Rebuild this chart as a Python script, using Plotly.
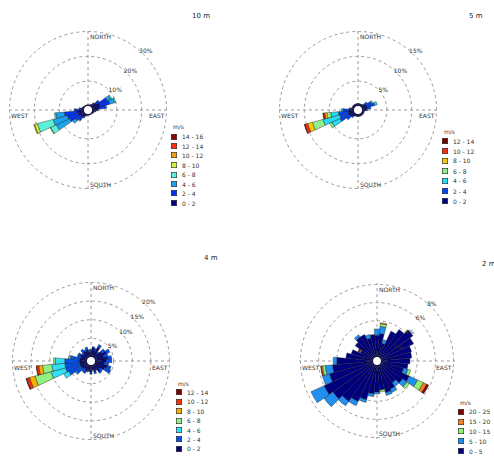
import plotly.graph_objects as go

W, H = 494, 463

directions = [0, 10, 20, 30, 40, 50, 60, 70, 80, 90, 100, 110,
              120, 130, 140, 150, 160, 170, 180, 190, 200, 210, 220, 230,
              240, 250, 260, 270, 280, 290, 300, 310, 320, 330, 340, 350]

# ---------------- Panel A: 10 m ----------------
A_labels = ['0 - 2', '2 - 4', '4 - 6', '6 - 8', '8 - 10', '10 - 12', '12 - 14', '14 - 16']
A_colors = ['#00007F', '#0033FF', '#1CA3F0', '#5CF0D8', '#D0F040', '#F0A010', '#FF2A10', '#900000']
A_0_2 = [0.5, 0.5, 0.6, 1.0, 1.5, 2.5, 3.5, 3.5, 3.0, 2.0, 1.5, 1.0,
         0.8, 0.6, 0.5, 0.5, 0.5, 0.5, 0.5, 0.6, 1.0, 1.5, 2.0, 2.0,
         2.5, 2.5, 3.0, 2.0, 1.5, 1.0, 0.8, 0.6, 0.5, 0.5, 0.5, 0.5]
A_2_4 = [0, 0, 0, 0, 0.5, 1.5, 3.5, 4.0, 2.5, 0.5, 0, 0,
         0, 0, 0, 0, 0, 0, 0, 0, 0, 0.5, 1.5, 2.5,
         4.0, 4.5, 5.0, 1.7, 0.5, 0, 0, 0, 0, 0, 0, 0]
A_4_6 = [0, 0, 0, 0, 0, 0, 1.5, 2.0, 0.5, 0, 0, 0,
         0, 0, 0, 0, 0, 0, 0, 0, 0, 0, 0.5, 1.5,
         6.0, 6.0, 3.5, 0.3, 0, 0, 0, 0, 0, 0, 0, 0]
A_6_8 = [0, 0, 0, 0, 0, 0, 0.5, 0.5, 0, 0, 0, 0,
         0, 0, 0, 0, 0, 0, 0, 0, 0, 0, 0, 0,
         2.5, 6.5, 0.5, 0, 0, 0, 0, 0, 0, 0, 0, 0]
A_8_10 = [0, 0, 0, 0, 0, 0, 0, 0, 0, 0, 0, 0,
          0, 0, 0, 0, 0, 0, 0, 0, 0, 0, 0, 0,
          0.2, 1.2, 0, 0, 0, 0, 0, 0, 0, 0, 0, 0]
A_10_12 = [0, 0, 0, 0, 0, 0, 0, 0, 0, 0, 0, 0,
           0, 0, 0, 0, 0, 0, 0, 0, 0, 0, 0, 0,
           0, 0.3, 0, 0, 0, 0, 0, 0, 0, 0, 0, 0]
A_12_14 = [0] * 36
A_14_16 = [0] * 36
A_ticks = [10, 20, 30]

# ---------------- Panel B: 5 m ----------------
B_labels = ['0 - 2', '2 - 4', '4 - 6', '6 - 8', '8 - 10', '10 - 12', '12 - 14']
B_colors = ['#00007F', '#0044FF', '#22DDF5', '#90F090', '#F5C800', '#F52A10', '#700000']
B_0_2 = [0.5, 0.5, 0.5, 0.5, 0.6, 1.0, 1.0, 1.2, 1.0, 0.8, 0.5, 0.5,
         0.5, 0.5, 0.5, 0.5, 0.5, 0.5, 0.5, 0.5, 0.5, 0.6, 0.8, 1.0,
         1.2, 1.2, 1.2, 1.0, 0.7, 0.5, 0.5, 0.5, 0.5, 0.5, 0.5, 0.5]
B_2_4 = [0, 0, 0, 0, 0, 0.5, 1.2, 1.5, 0.8, 0.3, 0, 0,
         0, 0, 0, 0, 0, 0, 0, 0, 0, 0, 0.3, 1.0,
         2.0, 1.8, 2.0, 1.2, 0.3, 0, 0, 0, 0, 0, 0, 0]
B_4_6 = [0, 0, 0, 0, 0, 0, 0.3, 0.5, 0, 0, 0, 0,
         0, 0, 0, 0, 0, 0, 0, 0, 0, 0, 0, 0,
         1.8, 3.5, 1.5, 0.3, 0, 0, 0, 0, 0, 0, 0, 0]
B_6_8 = [0, 0, 0, 0, 0, 0, 0, 0, 0, 0, 0, 0,
         0, 0, 0, 0, 0, 0, 0, 0, 0, 0, 0, 0,
         0.5, 2.2, 0.8, 0, 0, 0, 0, 0, 0, 0, 0, 0]
B_8_10 = [0, 0, 0, 0, 0, 0, 0, 0, 0, 0, 0, 0,
          0, 0, 0, 0, 0, 0, 0, 0, 0, 0, 0, 0,
          0, 1.0, 0.4, 0, 0, 0, 0, 0, 0, 0, 0, 0]
B_10_12 = [0, 0, 0, 0, 0, 0, 0, 0, 0, 0, 0, 0,
           0, 0, 0, 0, 0, 0, 0, 0, 0, 0, 0, 0,
           0, 0.6, 0.3, 0, 0, 0, 0, 0, 0, 0, 0, 0]
B_12_14 = [0, 0, 0, 0, 0, 0, 0, 0, 0, 0, 0, 0,
           0, 0, 0, 0, 0, 0, 0, 0, 0, 0, 0, 0,
           0, 0.1, 0.1, 0, 0, 0, 0, 0, 0, 0, 0, 0]
B_ticks = [5, 10, 15]

# ---------------- Panel C: 4 m ----------------
C_labels = ['0 - 2', '2 - 4', '4 - 6', '6 - 8', '8 - 10', '10 - 12', '12 - 14']
C_colors = ['#00007F', '#0050F0', '#30E0F5', '#90F080', '#F5B000', '#F53010', '#800000']
C_0_2 = [1.5, 2.5, 2.0, 3.0, 1.5, 2.5, 3.5, 2.5, 3.5, 3.0, 2.5, 3.5,
         3.0, 2.0, 2.5, 1.5, 2.0, 1.2, 2.0, 1.5, 1.5, 1.8, 1.5, 1.8,
         2.0, 2.0, 2.0, 2.0, 2.0, 1.8, 2.0, 1.5, 2.0, 1.8, 2.0, 1.5]
C_2_4 = [0.5, 0.3, 0.5, 0.8, 0.5, 1.0, 1.0, 1.2, 1.0, 1.5, 1.2, 1.0,
         1.8, 0.8, 0.5, 0.3, 0.5, 0.3, 0.5, 0.3, 0.5, 0.8, 1.0, 2.0,
         3.5, 4.0, 4.0, 4.0, 2.5, 1.0, 0.8, 0.5, 0.8, 0.5, 0.8, 0.5]
C_4_6 = [0, 0, 0, 0, 0, 0, 0, 0, 0, 0, 0, 0,
         0, 0, 0, 0, 0, 0, 0, 0, 0, 0, 0, 0.3,
         1.5, 4.0, 3.5, 2.5, 0.5, 0, 0, 0, 0, 0, 0, 0]
C_6_8 = [0, 0, 0, 0, 0, 0, 0, 0, 0, 0, 0, 0,
         0, 0, 0, 0, 0, 0, 0, 0, 0, 0, 0, 0,
         0, 4.5, 2.5, 0.5, 0, 0, 0, 0, 0, 0, 0, 0]
C_8_10 = [0, 0, 0, 0, 0, 0, 0, 0, 0, 0, 0, 0,
          0, 0, 0, 0, 0, 0, 0, 0, 0, 0, 0, 0,
          0, 1.5, 1.0, 0, 0, 0, 0, 0, 0, 0, 0, 0]
C_10_12 = [0, 0, 0, 0, 0, 0, 0, 0, 0, 0, 0, 0,
           0, 0, 0, 0, 0, 0, 0, 0, 0, 0, 0, 0,
           0, 0.8, 0.6, 0, 0, 0, 0, 0, 0, 0, 0, 0]
C_12_14 = [0, 0, 0, 0, 0, 0, 0, 0, 0, 0, 0, 0,
           0, 0, 0, 0, 0, 0, 0, 0, 0, 0, 0, 0,
           0, 0.2, 0.1, 0, 0, 0, 0, 0, 0, 0, 0, 0]
C_ticks = [5, 10, 15, 20]

# ---------------- Panel D: 2 m ----------------
D_labels = ['0 - 5', '5 - 10', '10 - 15', '15 - 20', '20 - 25']
D_colors = ['#00007F', '#2090F0', '#90F070', '#F58020', '#800000']
D_0_5 = [2.4, 2.6, 1.6, 3.2, 3.8, 4.4, 4.0, 3.5, 3.4, 3.2, 3.0, 2.6,
         3.5, 3.0, 2.5, 3.0, 3.2, 2.8, 3.0, 3.2, 4.0, 4.5, 5.0, 5.5,
         6.0, 5.0, 4.5, 4.0, 3.0, 2.5, 1.6, 2.5, 2.8, 2.8, 2.2, 2.5]
D_5_10 = [0.7, 0.8, 0.4, 0, 0, 0, 0, 0, 0, 0, 0, 0.5,
          1.0, 0.6, 0.5, 0.4, 0.3, 0, 0.2, 0.3, 0.3, 0.5, 0.6, 1.2,
          1.6, 0.8, 0.8, 0.4, 0, 0, 0.1, 0, 0.3, 0, 0.4, 0]
D_10_15 = [0, 0.3, 0, 0, 0, 0, 0, 0, 0, 0, 0, 0.3,
           0.7, 0.3, 0, 0, 0, 0.2, 0, 0, 0, 0, 0, 0,
           0, 0, 0.3, 0, 0, 0, 0, 0, 0, 0, 0, 0]
D_15_20 = [0, 0.1, 0, 0, 0, 0, 0, 0, 0, 0, 0, 0,
           0.4, 0, 0, 0, 0, 0, 0, 0, 0, 0, 0, 0,
           0, 0, 0.15, 0, 0, 0, 0.1, 0, 0, 0, 0, 0]
D_20_25 = [0, 0, 0, 0, 0, 0, 0, 0, 0, 0, 0, 0,
           0.25, 0, 0, 0, 0, 0, 0, 0, 0, 0, 0, 0,
           0, 0, 0.05, 0, 0, 0, 0.1, 0, 0, 0, 0, 0]
D_ticks = [2, 4, 6, 8]

panel_titles = ['10 m', '5 m', '4 m', '2 m']
legend_title = 'm/s'
cardinals = ['NORTH', 'EAST', 'SOUTH', 'WEST']

panels = [
    dict(title=panel_titles[0], labels=A_labels, colors=A_colors,
         series=[A_0_2, A_2_4, A_4_6, A_6_8, A_8_10, A_10_12, A_12_14, A_14_16],
         ticks=A_ticks, c=(88, 110), R=80, leg=(171, 127, 9.5), tpos=(190, 16)),
    dict(title=panel_titles[1], labels=B_labels, colors=B_colors,
         series=[B_0_2, B_2_4, B_4_6, B_6_8, B_8_10, B_10_12, B_12_14],
         ticks=B_ticks, c=(358, 110), R=80, leg=(442, 131, 10.0), tpos=(467, 16)),
    dict(title=panel_titles[2], labels=C_labels, colors=C_colors,
         series=[C_0_2, C_2_4, C_4_6, C_6_8, C_8_10, C_10_12, C_12_14],
         ticks=C_ticks, c=(91, 361), R=80, leg=(176, 383, 9.4), tpos=(202, 258)),
    dict(title=panel_titles[3], labels=D_labels, colors=D_colors,
         series=[D_0_5, D_5_10, D_10_15, D_15_20, D_20_25],
         ticks=D_ticks, c=(377, 361), R=78, leg=(458, 402, 9.8), tpos=(480, 264)),
]


def px(x):
    return x / W


def py(y):
    return 1 - y / H


fig = go.Figure()
annotations = []
layout_polars = {}
txt = dict(family='DejaVu Sans', size=6, color='#333333')

for i, p in enumerate(panels):
    pid = 'polar' if i == 0 else f'polar{i + 1}'
    for lab, col, vals in zip(p['labels'], p['colors'], p['series']):
        fig.add_trace(go.Barpolar(
            r=vals, theta=directions, width=[10] * len(directions),
            marker=dict(color=col, line=dict(color='#1a1a1a', width=0.4)),
            name=lab, subplot=pid, showlegend=False, hoverinfo='skip'))
    cx, cy = p['c']
    R = p['R']
    rmax = p['ticks'][-1]
    layout_polars[pid] = dict(
        domain=dict(x=[px(cx - R), px(cx + R)], y=[py(cy + R), py(cy - R)]),
        bgcolor='white', hole=0.05, barmode='stack',
        radialaxis=dict(range=[0, rmax * 1.02], tickmode='array', tickvals=p['ticks'],
                        ticktext=[f'{t}%' for t in p['ticks']],
                        showline=False, ticks='', angle=52, tickangle=52,
                        tickfont=dict(family='DejaVu Sans', size=6, color='#333333'),
                        gridcolor='#9a9a9a', griddash='dot', gridwidth=0.8),
        angularaxis=dict(rotation=90, direction='clockwise', tickvals=[0, 90, 180, 270],
                         showticklabels=False, ticks='', showline=False,
                         gridcolor='#9a9a9a', griddash='dot', gridwidth=0.8),
    )
    # cardinal labels
    annotations += [
        dict(x=px(cx), y=py(cy - R + 6), text=cardinals[0], xanchor='left', yanchor='middle'),
        dict(x=px(cx + R - 1), y=py(cy + 6), text=cardinals[1], xanchor='right', yanchor='middle'),
        dict(x=px(cx), y=py(cy + R - 6), text=cardinals[2], xanchor='left', yanchor='middle'),
        dict(x=px(cx - R + 1), y=py(cy + 6), text=cardinals[3], xanchor='left', yanchor='middle'),
    ]
    # panel title
    annotations.append(dict(x=px(p['tpos'][0]), y=py(p['tpos'][1]), text=p['title'],
                            xanchor='left', yanchor='middle',
                            font=dict(family='DejaVu Sans', size=7, color='#222222')))
    # legend
    lx, ly, gap = p['leg']
    annotations.append(dict(x=px(lx), y=py(ly), text=legend_title, xanchor='left', yanchor='middle'))
    n = len(p['labels'])
    for k in range(n):
        j = n - 1 - k
        yy = ly + gap * (k + 1)
        annotations.append(dict(x=px(lx), y=py(yy), text=' ', xanchor='left', yanchor='middle',
                                width=5, height=5, bgcolor=p['colors'][j],
                                bordercolor='#222222', borderwidth=0.6, borderpad=0))
        annotations.append(dict(x=px(lx + 9), y=py(yy), text=p['labels'][j],
                                xanchor='left', yanchor='middle'))

for a in annotations:
    a.setdefault('xref', 'paper')
    a.setdefault('yref', 'paper')
    a.setdefault('showarrow', False)
    a.setdefault('font', txt)

fig.update_layout(
    width=W, height=H,
    margin=dict(l=0, r=0, t=0, b=0),
    paper_bgcolor='white', plot_bgcolor='white',
    showlegend=False,
    annotations=annotations,
    **layout_polars,
)

fig.write_html('out.html', config={'displayModeBar': False},
               post_script="document.body.style.margin='0';document.body.style.padding='0';")
